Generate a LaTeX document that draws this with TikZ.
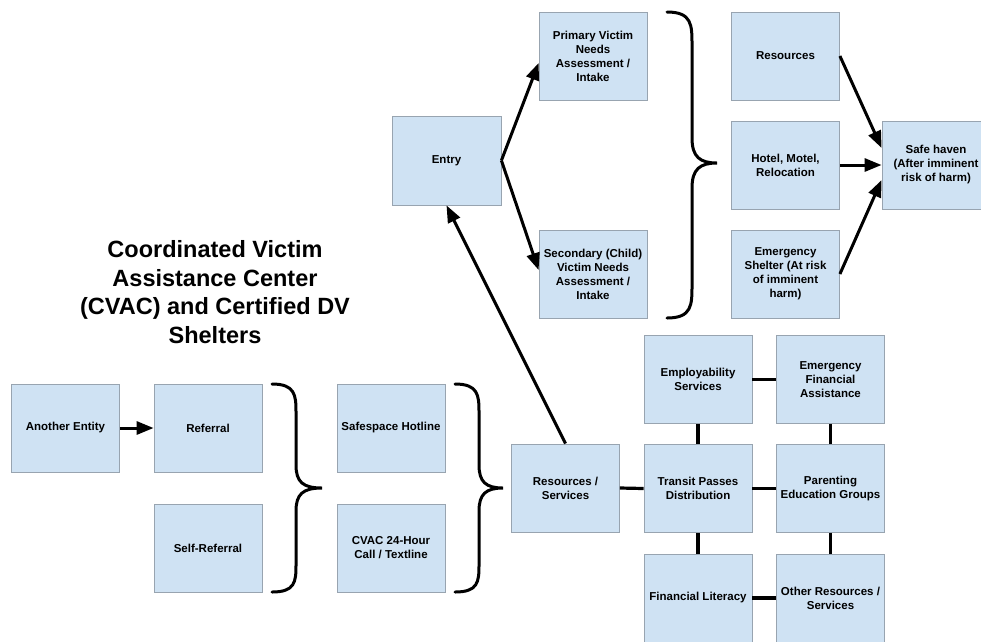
\documentclass[tikz,border=0pt]{standalone}
\usepackage{fontspec}
\setmainfont{Liberation Sans}
\usetikzlibrary{arrows.meta,calc}
\definecolor{boxfill}{HTML}{CFE2F3}
\definecolor{boxline}{HTML}{98A4B0}
\begin{document}
\begin{tikzpicture}[x=1pt,y=1pt,
  box/.style={draw=boxline,line width=0.8pt,fill=boxfill,minimum width=108pt,minimum height=88pt,
    inner sep=1pt,align=center,font=\fontsize{11.5}{14}\selectfont\bfseries},
  arr/.style={line width=3pt,-{Triangle[length=17pt,width=13pt]}},
  link/.style={line width=3.2pt},
  brace/.style={line width=3pt,line cap=round}]
\useasboundingbox (0,0) rectangle (981,-641);
% top part
\node[box,minimum width=109pt,minimum height=89pt] (entry) at (446.5,-160.5) {Entry};
\node[box] (prim) at (593,-56) {Primary Victim\\Needs\\Assessment /\\Intake};
\node[box] (sec) at (593,-274) {Secondary (Child)\\Victim Needs\\Assessment /\\Intake};
\node[box] (res) at (785.5,-56) {Resources};
\node[box] (hotel) at (785.5,-165) {Hotel, Motel,\\Relocation};
\node[box] (shelter) at (785.5,-274) {Emergency\\Shelter (At risk\\of imminent\\harm)};
\node[box] (sh) at (936,-165) {Safe haven\\(After imminent\\risk of harm)};
% title
\node[align=center,font=\fontsize{23.5}{28.5}\selectfont\bfseries] (title) at (215,-292)
  {Coordinated Victim\\Assistance Center\\(CVAC) and Certified DV\\Shelters};
% bottom-left
\node[box] (ae) at (65.5,-428) {Another Entity};
\node[box] (ref) at (208,-428) {Referral};
\node[box] (self) at (208,-548) {Self-Referral};
\node[box] (ssh) at (391,-428) {Safespace Hotline};
\node[box] (cvac) at (391,-548) {CVAC 24-Hour\\Call / Textline};
\node[box] (rs) at (565.5,-488) {Resources /\\Services};
% grid
\node[box] (emp) at (698,-379.5) {Employability\\Services};
\node[box] (efa) at (830.5,-379.5) {Emergency\\Financial\\Assistance};
\node[box] (tr) at (698,-488.5) {Transit Passes\\Distribution};
\node[box] (par) at (830.5,-488.5) {Parenting\\Education Groups};
\node[box] (fl) at (698,-598) {Financial Literacy};
\node[box] (oth) at (830.5,-598) {Other Resources /\\Services};
% arrows
\coordinate (pin) at ($(prim.west)+(0,-7)$);
\coordinate (sin) at ($(sec.west)+(0,4)$);
\draw[arr] (entry.east) -- (pin);
\draw[arr] (entry.east) -- (sin);
\draw[arr] (rs.north) -- (entry.south);
\draw[arr] (ae.east) -- (ref.west);
\coordinate (shin1) at ($(sh.west)+(0,17)$);
\coordinate (shin3) at ($(sh.west)+(0,-15)$);
\draw[arr] (res.east) -- (shin1);
\draw[arr] (hotel.east) -- (sh.west);
\draw[arr] (shelter.east) -- (shin3);
% links
\draw[link] (rs.east) -- (tr.west);
\draw[link] (emp.east) -- (efa.west);
\draw[link] (tr.east) -- (par.west);
\draw[link] (fl.east) -- (oth.west);
\draw[link] (emp.south) -- (tr.north);
\draw[link] (tr.south) -- (fl.north);
\draw[link] (efa.south) -- (par.north);
\draw[link] (par.south) -- (oth.north);
% braces
\draw[brace] (667,-12) .. controls (692,-12) and (692,-25) .. (692,-45) -- (692,-138)
  .. controls (692,-157) and (700,-163) .. (717,-163)
  .. controls (700,-163) and (692,-169) .. (692,-188) -- (692,-285)
  .. controls (692,-305) and (692,-318) .. (667,-318);
\draw[brace] (272,-384) .. controls (295,-384) and (296,-395) .. (296,-412) -- (296,-465)
  .. controls (296,-482) and (303,-488) .. (322,-488)
  .. controls (303,-488) and (296,-494) .. (296,-511) -- (296,-565)
  .. controls (296,-582) and (295,-592) .. (272,-592);
\draw[brace] (455,-384) .. controls (478,-384) and (479,-395) .. (479,-412) -- (479,-465)
  .. controls (479,-482) and (486,-488) .. (503,-488)
  .. controls (486,-488) and (479,-494) .. (479,-511) -- (479,-565)
  .. controls (479,-582) and (478,-592) .. (455,-592);
\end{tikzpicture}
\end{document}
